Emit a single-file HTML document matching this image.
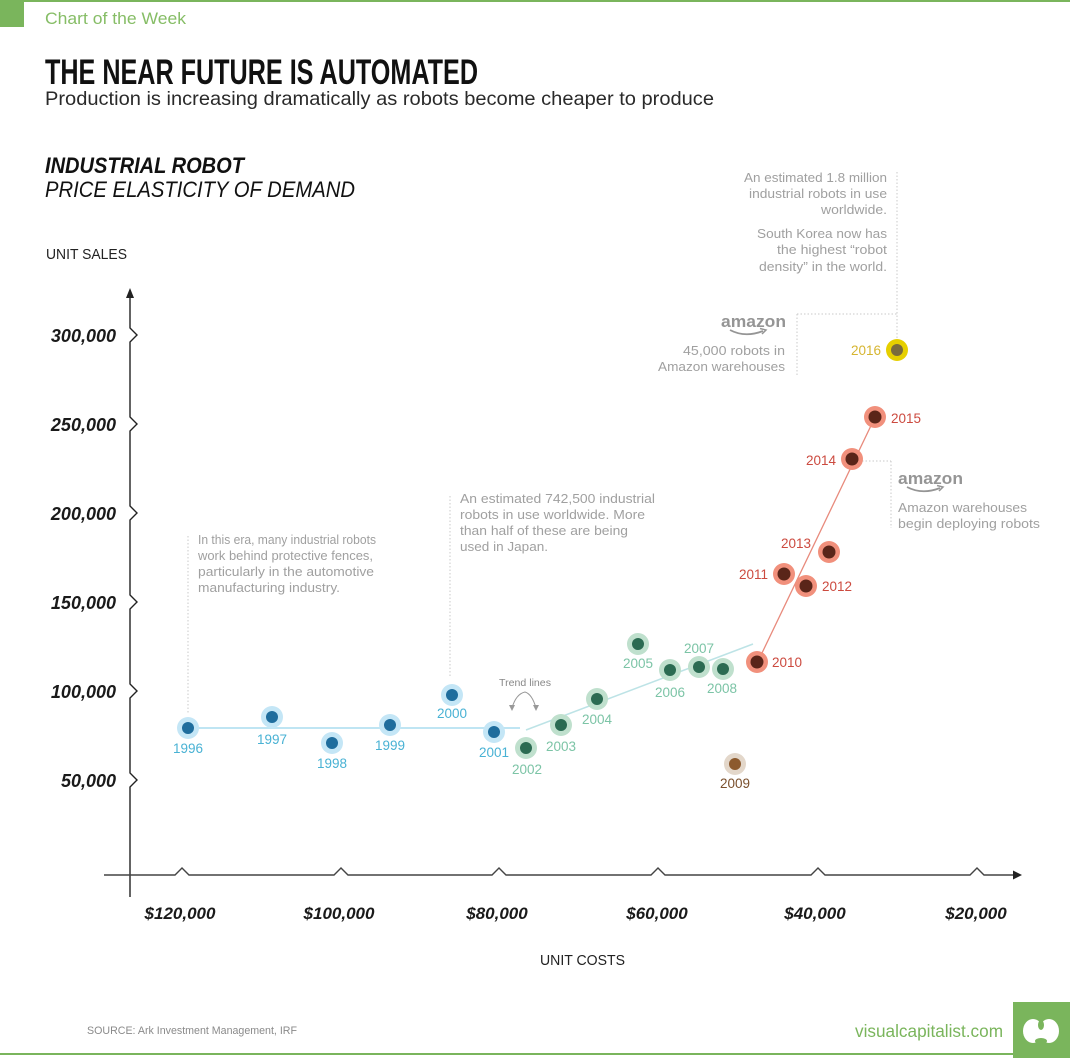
<!DOCTYPE html>
<html>
<head>
<meta charset="utf-8">
<style>
html,body{margin:0;padding:0;background:#fff;}
body{width:1070px;height:1058px;overflow:hidden;}
svg{display:block;}
text{font-family:"Liberation Sans",sans-serif;}
.ann{font-size:12.5px;fill:#a0a0a0;}
.yl{font-size:18px;font-weight:bold;font-style:italic;fill:#1a1a1a;}
.xl{font-size:17px;font-weight:bold;font-style:italic;fill:#1a1a1a;}
.yr{font-size:13.5px;}
.b{fill:#49b2d4;}
.g{fill:#7cc4a6;}
.r{fill:#cc4a3f;}
.dot{stroke:#c9c9c9;stroke-width:1;stroke-dasharray:1.5 2;fill:none;}
</style>
</head>
<body>
<svg width="1070" height="1058" viewBox="0 0 1070 1058" xmlns="http://www.w3.org/2000/svg">
<!-- header -->
<rect x="0" y="0" width="1070" height="2" fill="#7ab55c"/>
<rect x="0" y="1" width="24" height="26" fill="#7ab55c"/>
<text x="45" y="24" font-size="17" fill="#86bd66" textLength="141" lengthAdjust="spacingAndGlyphs">Chart of the Week</text>

<text x="45" y="84" font-size="35" font-weight="bold" fill="#111" style="font-family:'Liberation Sans Narrow','Liberation Sans',sans-serif" textLength="433" lengthAdjust="spacingAndGlyphs">THE NEAR FUTURE IS AUTOMATED</text>
<text x="45" y="105" font-size="19.5" fill="#2a2a2a" textLength="669" lengthAdjust="spacingAndGlyphs">Production is increasing dramatically as robots become cheaper to produce</text>

<text x="45" y="173" font-size="22" font-weight="bold" font-style="italic" fill="#111" textLength="199" lengthAdjust="spacingAndGlyphs">INDUSTRIAL ROBOT</text>
<text x="45" y="197" font-size="22" font-style="italic" fill="#111" textLength="310" lengthAdjust="spacingAndGlyphs">PRICE ELASTICITY OF DEMAND</text>
<text x="46" y="259" font-size="14.5" fill="#222" textLength="81" lengthAdjust="spacingAndGlyphs">UNIT SALES</text>

<!-- Y axis -->
<path d="M130,897 L130,787 L137,780 L130,773 L130,698 L137,691 L130,684 L130,609 L137,602 L130,595 L130,520 L137,513 L130,506 L130,431 L137,424 L130,417 L130,342 L137,335 L130,328 L130,296" fill="none" stroke="#222" stroke-width="1.4"/>
<path d="M130,288 L126,298 L134,298 Z" fill="#222"/>
<g class="yl" text-anchor="end">
<text x="116" y="342">300,000</text>
<text x="116" y="431">250,000</text>
<text x="116" y="520">200,000</text>
<text x="116" y="609">150,000</text>
<text x="116" y="698">100,000</text>
<text x="116" y="787">50,000</text>
</g>

<!-- X axis -->
<path d="M104,875 L175,875 L182,868 L189,875 L334,875 L341,868 L348,875 L492,875 L499,868 L506,875 L651,875 L658,868 L665,875 L811,875 L818,868 L825,875 L970,875 L977,868 L984,875 L1014,875" fill="none" stroke="#444" stroke-width="1.4"/>
<path d="M1022,875 L1013,870.5 L1013,879.5 Z" fill="#222"/>
<g class="xl" text-anchor="middle">
<text x="180" y="919">$120,000</text>
<text x="339" y="919">$100,000</text>
<text x="497" y="919">$80,000</text>
<text x="657" y="919">$60,000</text>
<text x="815" y="919">$40,000</text>
<text x="976" y="919">$20,000</text>
</g>
<text x="540" y="965" font-size="14.5" fill="#222" textLength="85" lengthAdjust="spacingAndGlyphs">UNIT COSTS</text>

<!-- annotations -->
<line class="dot" x1="188" y1="536" x2="188" y2="714"/>
<g class="ann">
<text x="198" y="544" textLength="178" lengthAdjust="spacingAndGlyphs">In this era, many industrial robots</text>
<text x="198" y="560" textLength="175" lengthAdjust="spacingAndGlyphs">work behind protective fences,</text>
<text x="198" y="576" textLength="176" lengthAdjust="spacingAndGlyphs">particularly in the automotive</text>
<text x="198" y="592" textLength="142" lengthAdjust="spacingAndGlyphs">manufacturing industry.</text>
</g>
<line class="dot" x1="450" y1="496" x2="450" y2="676"/>
<g class="ann">
<text x="460" y="503" textLength="195" lengthAdjust="spacingAndGlyphs">An estimated 742,500 industrial</text>
<text x="460" y="519" textLength="185" lengthAdjust="spacingAndGlyphs">robots in use worldwide. More</text>
<text x="460" y="535" textLength="168" lengthAdjust="spacingAndGlyphs">than half of these are being</text>
<text x="460" y="551" textLength="88" lengthAdjust="spacingAndGlyphs">used in Japan.</text>
</g>

<!-- top right -->
<line class="dot" x1="897" y1="172" x2="897" y2="338"/>
<line class="dot" x1="797" y1="314" x2="897" y2="314"/>
<line class="dot" x1="797" y1="314" x2="797" y2="376"/>
<g class="ann" text-anchor="end">
<text x="887" y="182" textLength="143" lengthAdjust="spacingAndGlyphs">An estimated 1.8 million</text>
<text x="887" y="198" textLength="138" lengthAdjust="spacingAndGlyphs">industrial robots in use</text>
<text x="887" y="214" textLength="66" lengthAdjust="spacingAndGlyphs">worldwide.</text>
<text x="887" y="238" textLength="130" lengthAdjust="spacingAndGlyphs">South Korea now has</text>
<text x="887" y="254" textLength="110" lengthAdjust="spacingAndGlyphs">the highest “robot</text>
<text x="887" y="271" textLength="128" lengthAdjust="spacingAndGlyphs">density” in the world.</text>
<text x="785" y="355" textLength="102" lengthAdjust="spacingAndGlyphs">45,000 robots in</text>
<text x="785" y="371" textLength="127" lengthAdjust="spacingAndGlyphs">Amazon warehouses</text>
</g>
<!-- amazon logo 1 -->
<text x="721" y="327" font-size="17" font-weight="bold" fill="#959595" textLength="65" lengthAdjust="spacingAndGlyphs">amazon</text>
<path d="M730,330 Q745,338 763,331" fill="none" stroke="#959595" stroke-width="1.8"/>
<path d="M760,328.5 L766,330 L762,334" fill="none" stroke="#959595" stroke-width="1.5"/>

<!-- 2014 annotation -->
<line class="dot" x1="862" y1="461" x2="891" y2="461"/>
<line class="dot" x1="891" y1="461" x2="891" y2="528"/>
<text x="898" y="484" font-size="17" font-weight="bold" fill="#959595" textLength="65" lengthAdjust="spacingAndGlyphs">amazon</text>
<path d="M907,487 Q922,495 940,488" fill="none" stroke="#959595" stroke-width="1.8"/>
<path d="M937,485.5 L943,487 L939,491" fill="none" stroke="#959595" stroke-width="1.5"/>
<g class="ann">
<text x="898" y="512" textLength="129" lengthAdjust="spacingAndGlyphs">Amazon warehouses</text>
<text x="898" y="528" textLength="142" lengthAdjust="spacingAndGlyphs">begin deploying robots</text>
</g>

<!-- trend lines label -->
<text x="499" y="686" font-size="10.5" fill="#888" textLength="52" lengthAdjust="spacingAndGlyphs">Trend lines</text>
<path d="M512,708 Q516,694 525,692 Q532,694 536,708" fill="none" stroke="#999" stroke-width="1"/>
<path d="M509,705 L512,711 L515,705 Z" fill="#999"/>
<path d="M533,705 L536,711 L539,705 Z" fill="#999"/>

<!-- trend lines -->
<line x1="188" y1="728" x2="520" y2="728" stroke="#bfe5f3" stroke-width="2"/>
<line x1="526" y1="730" x2="753" y2="644" stroke="#bde3e6" stroke-width="1.5"/>
<line x1="762" y1="653" x2="878" y2="411" stroke="#e88a7c" stroke-width="1.3"/>

<!-- blue points -->
<g>
<circle cx="188" cy="728" r="11" fill="#c4e6f6"/><circle cx="188" cy="728" r="6" fill="#1f6d9d"/>
<circle cx="272" cy="717" r="11" fill="#c4e6f6"/><circle cx="272" cy="717" r="6" fill="#1f6d9d"/>
<circle cx="332" cy="743" r="11" fill="#c4e6f6"/><circle cx="332" cy="743" r="6" fill="#1f6d9d"/>
<circle cx="390" cy="725" r="11" fill="#c4e6f6"/><circle cx="390" cy="725" r="6" fill="#1f6d9d"/>
<circle cx="452" cy="695" r="11" fill="#c4e6f6"/><circle cx="452" cy="695" r="6" fill="#1f6d9d"/>
<circle cx="494" cy="732" r="11" fill="#c4e6f6"/><circle cx="494" cy="732" r="6" fill="#1f6d9d"/>
</g>
<g class="yr b" text-anchor="middle">
<text x="188" y="753">1996</text>
<text x="272" y="744">1997</text>
<text x="332" y="768">1998</text>
<text x="390" y="750">1999</text>
<text x="452" y="718">2000</text>
<text x="494" y="757">2001</text>
</g>

<!-- green points -->
<g>
<circle cx="526" cy="748" r="11" fill="#bfe0cd"/><circle cx="526" cy="748" r="6" fill="#2b6b52"/>
<circle cx="561" cy="725" r="11" fill="#bfe0cd"/><circle cx="561" cy="725" r="6" fill="#2b6b52"/>
<circle cx="597" cy="699" r="11" fill="#bfe0cd"/><circle cx="597" cy="699" r="6" fill="#2b6b52"/>
<circle cx="638" cy="644" r="11" fill="#bfe0cd"/><circle cx="638" cy="644" r="6" fill="#2b6b52"/>
<circle cx="670" cy="670" r="11" fill="#bfe0cd"/><circle cx="670" cy="670" r="6" fill="#2b6b52"/>
<circle cx="699" cy="667" r="11" fill="#bfe0cd"/><circle cx="699" cy="667" r="6" fill="#2b6b52"/>
<circle cx="723" cy="669" r="11" fill="#bfe0cd"/><circle cx="723" cy="669" r="6" fill="#2b6b52"/>
</g>
<g class="yr g" text-anchor="middle">
<text x="527" y="774">2002</text>
<text x="561" y="751">2003</text>
<text x="597" y="724">2004</text>
<text x="638" y="668">2005</text>
<text x="670" y="697">2006</text>
<text x="699" y="653">2007</text>
<text x="722" y="693">2008</text>
</g>

<!-- 2009 -->
<circle cx="735" cy="764" r="11" fill="#e3d7ca"/><circle cx="735" cy="764" r="6" fill="#8c5a2e"/>
<text class="yr" x="735" y="788" text-anchor="middle" fill="#7a4f2c">2009</text>

<!-- red points -->
<g>
<circle cx="757" cy="662" r="11" fill="#f1907c"/><circle cx="757" cy="662" r="6.5" fill="#5a2519"/>
<circle cx="784" cy="574" r="11" fill="#f1907c"/><circle cx="784" cy="574" r="6.5" fill="#5a2519"/>
<circle cx="806" cy="586" r="11" fill="#f1907c"/><circle cx="806" cy="586" r="6.5" fill="#5a2519"/>
<circle cx="829" cy="552" r="11" fill="#f1907c"/><circle cx="829" cy="552" r="6.5" fill="#5a2519"/>
<circle cx="852" cy="459" r="11" fill="#f1907c"/><circle cx="852" cy="459" r="6.5" fill="#5a2519"/>
<circle cx="875" cy="417" r="11" fill="#f1907c"/><circle cx="875" cy="417" r="6.5" fill="#5a2519"/>
</g>
<g class="yr r">
<text x="772" y="667">2010</text>
<text x="739" y="579">2011</text>
<text x="822" y="591">2012</text>
<text x="781" y="548">2013</text>
<text x="806" y="465">2014</text>
<text x="891" y="423">2015</text>
</g>

<!-- 2016 -->
<circle cx="897" cy="350" r="11" fill="#e6cf00"/><circle cx="897" cy="350" r="6" fill="#7a6b3c"/>
<text class="yr" x="851" y="355" fill="#d6b530">2016</text>

<!-- footer -->
<text x="87" y="1034" font-size="11" fill="#8a8a8a" textLength="210" lengthAdjust="spacingAndGlyphs">SOURCE: Ark Investment Management, IRF</text>
<text x="855" y="1037" font-size="17.5" fill="#7ab55c" textLength="148" lengthAdjust="spacingAndGlyphs">visualcapitalist.com</text>
<rect x="0" y="1053" width="1070" height="2" fill="#7ab55c"/>
<rect x="1013" y="1002" width="57" height="56" fill="#7ab55c"/>
<g fill="#fff">
<ellipse cx="1033" cy="1031" rx="10" ry="12"/>
<ellipse cx="1049" cy="1031" rx="10" ry="12"/>
</g>
<ellipse cx="1041" cy="1025" rx="3" ry="5" fill="#7ab55c"/>
<ellipse cx="1041" cy="1041" rx="6" ry="3" fill="#7ab55c"/>
</svg>
</body>
</html>
